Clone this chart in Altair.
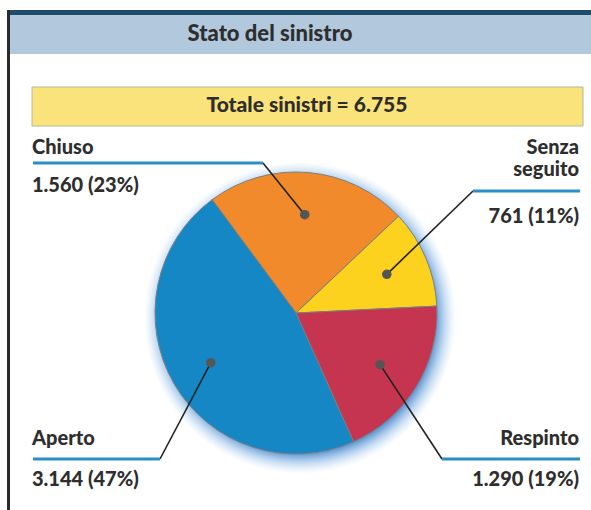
import math
import altair as alt
import pandas as pd

# ---------------- data ----------------
categories = ["Chiuso", "Senza seguito", "Respinto", "Aperto"]
values = [1560, 761, 1290, 3144]
value_labels = ["1.560 (23%)", "761 (11%)", "1.290 (19%)", "3.144 (47%)"]
name_lines = [["Chiuso"], ["Senza", "seguito"], ["Respinto"], ["Aperto"]]
colors = ["#F08A2B", "#FCD21F", "#C6354F", "#1487C4"]
title_text = "Stato del sinistro"
total_text = "Totale sinistri = 6.755"

# ---------------- layout ----------------
W, H = 591, 510
CX, CY, R = 296, 313, 141
START = math.radians(-36.5)
DOT_FRAC = 0.70
FONT = "Lato"
TXT = "#2E2E2E"
LABEL_SIZE = 20

# label layout: (side, line_x0, line_x1, line_y, elbow_x, name_y list, value_y)
label_layout = {
    "Chiuso": ("left", 33, 263, 163, 263, [154], 192),
    "Senza seguito": ("right", 473, 580, 191, 473, [154, 176], 223),
    "Respinto": ("right", 442, 580, 459, 442, [445], 486),
    "Aperto": ("left", 33, 160, 459, 160, [445], 486),
}
LEFT_X, RIGHT_X = 32, 579

total = sum(values)
pie_df = pd.DataFrame({"category": categories, "value": values, "ord": list(range(len(values)))})

cum = 0
dot_rows, leader_rows, blue_rows, text_left, text_right = [], [], [], [], []
for cat, v, vl, names in zip(categories, values, value_labels, name_lines):
    mid = START + 2 * math.pi * (cum + v / 2) / total
    cum += v
    dx = CX + DOT_FRAC * R * math.sin(mid)
    dy = CY - DOT_FRAC * R * math.cos(mid)
    dot_rows.append({"x": dx, "y": dy})
    side, x0, x1, ly, ex, name_ys, val_y = label_layout[cat]
    leader_rows.append({"x": ex, "y": ly, "x2": dx, "y2": dy})
    blue_rows.append({"x": x0, "x2": x1, "y": ly})
    tx = LEFT_X if side == "left" else RIGHT_X
    rows = [{"t": n, "x": tx, "y": ny} for n, ny in zip(names, name_ys)]
    rows.append({"t": vl, "x": tx, "y": val_y})
    (text_left if side == "left" else text_right).extend(rows)

xs = alt.Scale(domain=[0, W], nice=False, zero=False)
ys = alt.Scale(domain=[0, H], nice=False, zero=False, reverse=True)
one = pd.DataFrame({"a": [0]})

def X(f="x"):
    return alt.X(f"{f}:Q", scale=xs, axis=None)

def Y(f="y"):
    return alt.Y(f"{f}:Q", scale=ys, axis=None)

top_bar = alt.Chart(one).mark_rect(fill="#1E4C6B").encode(
    x=alt.value(7), x2=alt.value(W), y=alt.value(10), y2=alt.value(15))
header = alt.Chart(one).mark_rect(fill="#B2C8DC").encode(
    x=alt.value(10), x2=alt.value(W), y=alt.value(15), y2=alt.value(54))
left_border = alt.Chart(one).mark_rect(fill="#2A2A2A").encode(
    x=alt.value(7), x2=alt.value(10), y=alt.value(10), y2=alt.value(H))
title = alt.Chart(one).mark_text(
    text=title_text, font=FONT, fontSize=22, fontWeight=900, color=TXT,
    align="center", baseline="middle").encode(x=alt.value(270), y=alt.value(34))

ybox = alt.Chart(one).mark_rect(fill="#FBE37B", stroke="#B9B59C", strokeWidth=1).encode(
    x=alt.value(32), x2=alt.value(583), y=alt.value(87), y2=alt.value(126))
total_t = alt.Chart(one).mark_text(
    text=total_text, font=FONT, fontSize=21, fontWeight=900, color=TXT,
    align="center", baseline="middle").encode(x=alt.value(307), y=alt.value(106))

glow = alt.Chart(one).mark_arc(
    theta=0, theta2=2 * math.pi, radius=R + 15,
    fill=alt.RadialGradient(
        gradient="radial", x1=0.5, y1=0.5, r1=0, x2=0.5, y2=0.5, r2=0.5,
        stops=[alt.GradientStop(offset=0, color="rgba(50,120,195,0.85)"),
               alt.GradientStop(offset=0.86, color="rgba(50,120,195,0.85)"),
               alt.GradientStop(offset=0.93, color="rgba(100,160,220,0.4)"),
               alt.GradientStop(offset=1, color="rgba(160,200,240,0)")])
).encode(x=alt.value(CX + 4), y=alt.value(CY + 5))

pie = alt.Chart(pie_df).mark_arc(radius=R, stroke="#7E7E7E", strokeWidth=1).encode(
    theta=alt.Theta("value:Q", stack=True,
                    scale=alt.Scale(range=[START, START + 2 * math.pi])),
    color=alt.Color("category:N", scale=alt.Scale(domain=categories, range=colors), legend=None),
    order=alt.Order("ord:Q"),
    x=alt.value(CX), y=alt.value(CY))

leaders = alt.Chart(pd.DataFrame(leader_rows)).mark_rule(color="#222222", strokeWidth=1.6).encode(
    x=X(), y=Y(), x2="x2:Q", y2="y2:Q")
blue_lines = alt.Chart(pd.DataFrame(blue_rows)).mark_rule(color="#2B8FC6", strokeWidth=3).encode(
    x=X(), x2="x2:Q", y=Y())
dots = alt.Chart(pd.DataFrame(dot_rows)).mark_point(
    filled=True, shape="circle", size=90, color="#555555", opacity=1).encode(x=X(), y=Y())

tl = alt.Chart(pd.DataFrame(text_left)).mark_text(
    font=FONT, fontSize=LABEL_SIZE, fontWeight=900, color=TXT, align="left", baseline="alphabetic").encode(
    x=X(), y=Y(), text="t:N")
tr = alt.Chart(pd.DataFrame(text_right)).mark_text(
    font=FONT, fontSize=LABEL_SIZE, fontWeight=900, color=TXT, align="right", baseline="alphabetic").encode(
    x=X(), y=Y(), text="t:N")

chart = alt.layer(
    top_bar, header, left_border, title, ybox, total_t,
    glow, pie, leaders, blue_lines, dots, tl, tr
).properties(
    width=W, height=H, padding=0, autosize=alt.AutoSizeParams(type="none"), background="white"
).configure_view(stroke=None)

chart.save("out.html", embed_options={"renderer": "svg", "actions": False})
